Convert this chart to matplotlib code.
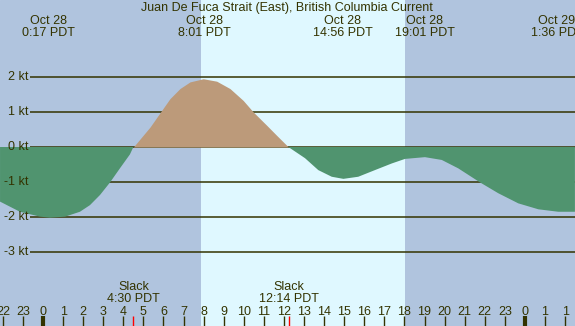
import matplotlib
matplotlib.use("Agg")
import matplotlib.pyplot as plt
import matplotlib.transforms as mtransforms
import numpy as np

# ---- data (hours after Oct 28 00:00 PDT, knots) ----
times = [-2.14, -1.15, -0.15, 0.35, 1.10, 1.84, 2.34, 2.84, 3.34, 3.83, 4.33,
         4.50, 5.33, 5.83, 6.32, 6.82, 7.32, 7.98, 8.65, 9.31, 9.97, 10.47,
         11.14, 11.64, 12.22, 13.05, 13.71, 14.38, 14.96, 15.70, 16.53, 17.37,
         18.03, 19.02, 19.86, 20.68, 21.76, 22.67, 23.67, 24.67, 25.66, 26.49]
speeds = [-1.56, -1.85, -1.99, -2.02, -1.99, -1.85, -1.66, -1.37, -1.01, -0.61,
          -0.21, 0.0, 0.57, 0.98, 1.38, 1.67, 1.86, 1.95, 1.88, 1.67, 1.33, 1.0,
          0.62, 0.33, 0.0, -0.32, -0.66, -0.85, -0.91, -0.85, -0.66, -0.47,
          -0.34, -0.29, -0.37, -0.61, -1.01, -1.32, -1.61, -1.78, -1.85, -1.85]

event_times = [0.28, 8.02, 14.93, 19.02, 25.6]
event_labels = ["Oct 28\n0:17 PDT", "Oct 28\n8:01 PDT", "Oct 28\n14:56 PDT",
                "Oct 28\n19:01 PDT", "Oct 29\n1:36 PDT"]
slack_times = [4.5, 12.23]
slack_labels = ["Slack\n4:30 PDT", "Slack\n12:14 PDT"]

hour_positions = list(range(-2, 27))
hour_labels = ["22", "23"] + [str(h) for h in range(24)] + ["0", "1", "1"]
midnights = [0, 24]

y_levels = [2, 1, 0, -1, -2, -3]
y_labels = ["2 kt", "1 kt", "0 kt", "-1 kt", "-2 kt", "-3 kt"]

sunrise, sunset = 7.87, 18.03
title = "Juan De Fuca Strait (East), British Columbia Current"

# ---- style ----
W, H = 575, 326
night = "#b0c4de"
day = "#dff8ff"
flood = "#bc9a7a"
ebb = "#50946f"
ink = "#333300"
fs = 9

plt.rcParams['font.family'] = ['Liberation Sans', 'DejaVu Sans']
fig = plt.figure(figsize=(W / 100, H / 100), dpi=100)
ax = fig.add_axes([0, 0, 1, 1])
px_per_hr = 20.08
x0 = 43.0
ax.set_xlim(-x0 / px_per_hr, (W - x0) / px_per_hr)
ax.set_ylim(-(H - 147) / 35.0, 147 / 35.0)
ax.axis("off")
ax.add_patch(plt.Rectangle((0, 0), 1, 1, transform=ax.transAxes,
                           color=night, zorder=0))
ax.axvspan(sunrise, sunset, color=day, zorder=0.5, lw=0)

t = np.array(times)
v = np.array(speeds)
xgrid_start = (30 - x0) / px_per_hr
ax.hlines(y_levels, xgrid_start, ax.get_xlim()[1], color=ink, lw=1.1, zorder=1)
for y, lab in zip(y_levels, y_labels):
    ax.text(xgrid_start - 0.08, y, lab, ha="right", va="center",
            fontsize=fs, color=ink, zorder=5)

ax.fill_between(t, 0, v, where=v >= 0, interpolate=True, color=flood,
                lw=0, zorder=2, antialiased=True)
ax.fill_between(t, 0, v, where=v <= 0, interpolate=True, color=ebb,
                lw=0, zorder=2, antialiased=True)

bt = mtransforms.blended_transform_factory(ax.transData, ax.transAxes)
def fy(ypix):
    return 1 - ypix / H

ax.text(np.mean(ax.get_xlim()) - 0.05, fy(8), title, transform=bt,
        ha="center", va="center", fontsize=fs, color=ink)
for et, lab in zip(event_times, event_labels):
    ax.text(et, fy(26.5), lab, transform=bt, ha="center", va="center",
            fontsize=fs, color=ink, linespacing=1.0)
for st, lab in zip(slack_times, slack_labels):
    ax.text(st, fy(293.5), lab, transform=bt, ha="center", va="center",
            fontsize=fs, color=ink, linespacing=1.0)

for hp, hl in zip(hour_positions, hour_labels):
    ax.text(hp, fy(312), hl, transform=bt, ha="center", va="center",
            fontsize=fs, color=ink)
    lw = 3 if hp in midnights else 1
    ax.vlines(hp, 0, 10 / H, transform=bt, color=ink, lw=lw, zorder=4)
ax.vlines(slack_times, 0, 10 / H, transform=bt, color="red", lw=1, zorder=4)

fig.savefig("out.png", dpi=100)
